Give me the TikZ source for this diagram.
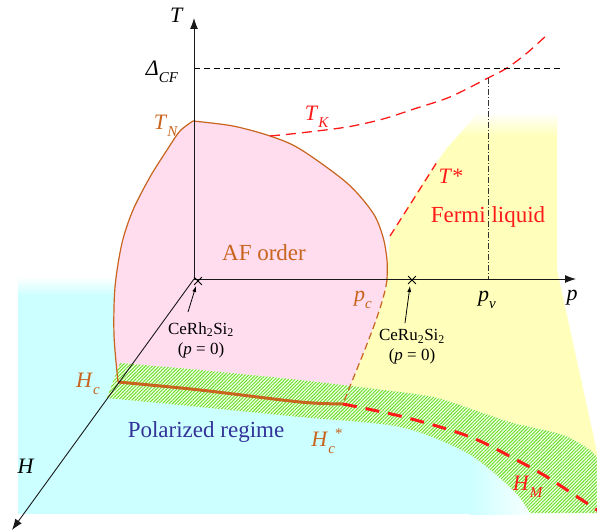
\documentclass[tikz,border=0pt]{standalone}
\usepackage{fontspec}
\setmainfont{Liberation Serif}
\usetikzlibrary{arrows.meta,patterns.meta,shapes.misc}
\definecolor{pinkc}{HTML}{FFDDEE}
\definecolor{yellowc}{HTML}{FFFFBB}
\definecolor{cyanc}{HTML}{CCFFFF}
\definecolor{brownc}{HTML}{C8641E}
\definecolor{redc}{HTML}{FF1A1A}
\definecolor{bluec}{HTML}{333399}
\definecolor{greenc}{HTML}{66DD22}
\definecolor{bandbg}{HTML}{F0FFE6}
\newcommand\bigf{\fontsize{23}{26}\selectfont}
\newcommand\labf{\fontsize{22}{24}\selectfont}
\newcommand\subf{\fontsize{15}{16}\selectfont}
\newcommand\smf{\fontsize{17}{20}\selectfont}
\newcommand\subx[1]{\raisebox{-0.3em}{\subf #1}}
\tikzset{
  axisline/.style={draw=black!90, line width=0.9pt, -{Latex[length=11pt,width=8pt]}},
  smallarrow/.style={draw=black, line width=0.8pt, -{Latex[length=6pt,width=4pt]}},
  xmark/.style={draw=black, cross out, minimum size=7pt, inner sep=0pt, line width=0.8pt},
  lab/.style={inner sep=0pt, font=\labf},
  brownlab/.style={lab, text=brownc},
  redlab/.style={lab, text=redc},
}
\begin{document}
\begin{tikzpicture}[x=1pt,y=-1pt]
\useasboundingbox (0,0) rectangle (597,532);
% cyan region
\fill[cyanc] (18,295) rectangle (470,514);
\shade[top color=white, bottom color=cyanc] (18,277) rectangle (470,295.5);
\shade[left color=cyanc, right color=white] (469.5,295) rectangle (540,514);
% yellow region
\begin{scope}
\clip (387,280) -- (390,236) .. controls (405,212) and (420,185) .. (437,162)
  -- (447,148) -- (477,115) -- (557,115) -- (557,270) -- (597,452) -- (597,505)
  -- (513,458) -- (450,430) -- (343,404) .. controls (358,365) and (383,310) .. (387,280) -- cycle;
\fill[yellowc] (330,100) rectangle (597,520);
\shade[top color=white, bottom color=yellowc] (330,112) rectangle (597,136);
\end{scope}
% pink region
\fill[pinkc] plot[smooth] coordinates {(118,382) (114,335) (115,287) (122,243) (133,210) (150,177) (167,150) (180,131) (193,121)}
  -- plot[smooth] coordinates {(193,121) (233,126) (270,136) (300,149) (347,183) (373,213) (383,237) (387,260) (387,280)}
  .. controls (383,310) and (358,365) .. (343,404)
  -- plot[smooth] coordinates {(343,404) (300,402) (200,390) (118,382)} -- cycle;
% green band
\path[fill=bandbg] plot[smooth] coordinates {(120,363) (200,370) (300,380) (367,388) (433,397) (480,412) (513,423) (563,435) (590,450) (597,458)}
  -- (597,513) -- (530,513)
  -- plot[smooth] coordinates {(530,513) (513,490) (467,453) (400,427) (300,417) (200,407) (107,398)} -- cycle;
\path[pattern={Lines[angle=45,distance=2.4pt,line width=0.9pt]}, pattern color=greenc]
  plot[smooth] coordinates {(120,363) (200,370) (300,380) (367,388) (433,397) (480,412) (513,423) (563,435) (590,450) (597,458)}
  -- (597,513) -- (530,513)
  -- plot[smooth] coordinates {(530,513) (513,490) (467,453) (400,427) (300,417) (200,407) (107,398)} -- cycle;
% named points
\coordinate (O) at (194,279);
\coordinate (Ttip) at (194,18);
\coordinate (ptip) at (576,279);
\coordinate (Htip) at (12,530);
\coordinate (Hc) at (118,382);
\coordinate (Hcs) at (343,404);
\coordinate (pc) at (387,280);
\coordinate (TN) at (193,121);
\coordinate (dL) at (194,69);
\coordinate (dR) at (562,69);
\coordinate (pvtop) at (488,78);
\coordinate (pvbot) at (488,279);
% pink boundary
\draw[brownc, line width=1.2pt] plot[smooth] coordinates {(118,382) (114,335) (115,287) (122,243) (133,210) (150,177) (167,150) (180,131) (193,121)};
\draw[brownc, line width=1.2pt] plot[smooth] coordinates {(193,121) (233,126) (270,136) (300,149) (347,183) (373,213) (383,237) (387,260) (387,280)};
\draw[brownc, line width=1.2pt, dash pattern=on 7pt off 4pt] (pc) .. controls (383,310) and (358,365) .. (Hcs);
% Hc line and HM
\draw[brownc, line width=3pt] plot[smooth] coordinates {(118,382) (200,390) (300,402) (343,404)};
\draw[redc, line width=3pt, dash pattern=on 14pt off 9pt] plot[smooth] coordinates {(343,404) (400,416) (450,430) (480,441) (513,458) (547,477) (600,512)};
% T*, TK
\draw[redc, line width=1.3pt, dash pattern=on 8pt off 5pt] plot[smooth] coordinates {(390,236) (413,200) (437,162)};
\draw[redc, line width=1.3pt, dash pattern=on 10pt off 6pt] plot[smooth] coordinates {(270,136) (300,133) (347,127) (383,119) (417,108) (450,97) (488,78) (507,68) (527,53) (548,34)};
% Delta_CF and p_v
\draw[black, line width=1pt, dash pattern=on 6pt off 4pt] (dL) -- (dR);
\draw[black!80, line width=0.9pt, dash pattern=on 6pt off 2pt on 1pt off 2pt] (pvtop) -- (pvbot);
% axes
\draw[axisline] (O) -- (Ttip);
\draw[axisline] (O) -- (ptip);
\draw[axisline] (O) -- (Htip);
% markers
\node[xmark] (rh) at (198,281) {};
\node[xmark] (ru) at (412,280) {};
\coordinate (rhfrom) at (188,312);
\coordinate (rhto) at (196,286);
\coordinate (rufrom) at (405,323);
\coordinate (ruto) at (410,286);
\draw[smallarrow] (rhfrom) -- (rhto);
\draw[smallarrow] (rufrom) -- (ruto);
% labels
\node[lab] (lT) at (177,15) {\textit{T}};
\node[lab] (lD) at (162,72) {\textit{Δ}\subx{\textit{CF}}};
\node[brownlab] (lTN) at (166,126) {\textit{T}\subx{\textit{N}}};
\node[redlab] (lTK) at (317,117) {\textit{T}\subx{\textit{K}}};
\node[redlab] (lTs) at (451,176) {\textit{T}*};
\node[inner sep=0pt, font=\bigf, text=redc] (lFL) at (488,217) {Fermi liquid};
\node[inner sep=0pt, font=\bigf, text=brownc] (lAF) at (264,253) {AF order};
\node[brownlab] (lpc) at (363,300) {\textit{p}\subx{\textit{c}}};
\node[lab] (lpv) at (487,300) {\textit{p}\subx{\textit{v}}};
\node[lab] (lp) at (572,298) {\textit{p}};
\node[inner sep=0pt, font=\smf, align=center] (lrh) at (201,340) {CeRh\textsubscript{2}Si\textsubscript{2}\\(\textit{p} = 0)};
\node[inner sep=0pt, font=\smf, align=center] (lru) at (412,347) {CeRu\textsubscript{2}Si\textsubscript{2}\\(\textit{p} = 0)};
\node[brownlab] (lHc) at (88,384) {\textit{H}\subx{\textit{c}}};
\node[brownlab] (lHcs) at (327,441) {\textit{H}\subx{\textit{c}}\raisebox{0.4em}{\subf *}};
\node[inner sep=0pt, font=\bigf, text=bluec] (lPR) at (206,432) {Polarized regime};
\node[lab] (lH) at (26,466) {\textit{H}};
\node[redlab] (lHM) at (528,487) {\textit{H}\subx{\textit{M}}};
\end{tikzpicture}
\end{document}
